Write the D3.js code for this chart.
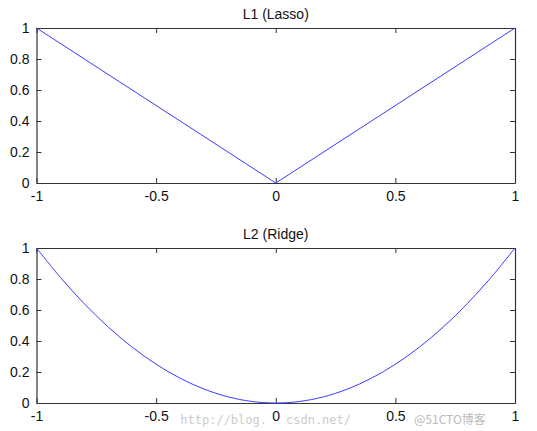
<!DOCTYPE html>
<html lang="en">
<head>
  <meta charset="UTF-8" />
  <title>L1 vs L2</title>
  <script src="https://d3js.org/d3.v7.min.js"></script>
  <style>
    body { margin: 0; background: white; font-family: Arial, "Liberation Sans", sans-serif; }
    .tick text { font-size: 14px; fill: #111; font-family: Arial, "Liberation Sans", sans-serif; }
    .domain, .tick line { stroke: #333; }
    .wm { font-family: "DejaVu Sans Mono", monospace; font-size: 12px; fill: #ccc; }
  </style>
</head>
<body>
  <svg id="chart" width="537" height="431"></svg>

  <script>
    // data
    const xTicks = [-1, -0.5, 0, 0.5, 1];
    const yTicks = [0, 0.2, 0.4, 0.6, 0.8, 1];

    const lassoX = [-1, 0, 1];
    const lassoY = [1, 0, 1];

    const ridgeX = [-1, -0.9, -0.8, -0.7, -0.6, -0.5, -0.4, -0.3, -0.2, -0.1, 0,
                    0.1, 0.2, 0.3, 0.4, 0.5, 0.6, 0.7, 0.8, 0.9, 1];
    const ridgeY = [1, 0.81, 0.64, 0.49, 0.36, 0.25, 0.16, 0.09, 0.04, 0.01, 0,
                    0.01, 0.04, 0.09, 0.16, 0.25, 0.36, 0.49, 0.64, 0.81, 1];

    const panels = [
      { title: "L1 (Lasso)", xs: lassoX, ys: lassoY, top: 28, bottom: 183, curve: d3.curveLinear },
      { title: "L2 (Ridge)", xs: ridgeX, ys: ridgeY, top: 248, bottom: 403, curve: d3.curveCatmullRom }
    ];

    const svg = d3.select("#chart");
    const left = 36.5, right = 515;

    // matlab style labels: plain hyphen for negatives
    const fmt = d => String(d);

    const x = d3.scaleLinear().domain([-1, 1]).range([left, right]);

    panels.forEach(p => {
      const y = d3.scaleLinear().domain([0, 1]).range([p.bottom, p.top]);
      const g = svg.append("g");

      // bottom axis with labels, ticks pointing in
      g.append("g")
        .attr("transform", `translate(0,${p.bottom})`)
        .call(d3.axisBottom(x).tickValues(xTicks).tickSizeInner(-5).tickSizeOuter(0)
          .tickPadding(8).tickFormat(fmt))
        .call(a => a.selectAll("text").attr("dy", "0.71em"));

      // top axis, ticks only
      g.append("g")
        .attr("transform", `translate(0,${p.top})`)
        .call(d3.axisTop(x).tickValues(xTicks).tickSizeInner(-5).tickSizeOuter(0).tickFormat(""));

      // left axis with labels
      g.append("g")
        .attr("transform", `translate(${left},0)`)
        .call(d3.axisLeft(y).tickValues(yTicks).tickSizeInner(-5).tickSizeOuter(0)
          .tickPadding(7).tickFormat(fmt));

      // right axis, ticks only
      g.append("g")
        .attr("transform", `translate(${right},0)`)
        .call(d3.axisRight(y).tickValues(yTicks).tickSizeInner(-5).tickSizeOuter(0).tickFormat(""));

      g.selectAll(".domain").attr("stroke", "#333").attr("stroke-width", 1.2);

      const pts = p.xs.map((v, i) => [v, p.ys[i]]);
      g.append("path")
        .datum(pts)
        .attr("fill", "none")
        .attr("stroke", "#3b3bff")
        .attr("stroke-width", 1)
        .attr("d", d3.line().x(d => x(d[0])).y(d => y(d[1])).curve(p.curve));

      g.append("text")
        .attr("x", (left + right) / 2)
        .attr("y", p.top - 9)
        .attr("text-anchor", "middle")
        .attr("font-size", 14)
        .attr("fill", "#111")
        .text(p.title);
    });

    // watermark, split into the gaps between the tick labels
    svg.append("text").attr("class", "wm")
      .attr("x", 267).attr("y", 424).attr("text-anchor", "end")
      .text("http://blog.");
    svg.append("text").attr("class", "wm")
      .attr("x", 286).attr("y", 424)
      .text("csdn.net/");
    svg.append("text").attr("class", "wm")
      .attr("x", 414).attr("y", 424)
      .style("font-family", "'Noto Sans CJK SC', sans-serif")
      .style("fill", "#bbb")
      .text("@51CTO博客");
  </script>
</body>
</html>
